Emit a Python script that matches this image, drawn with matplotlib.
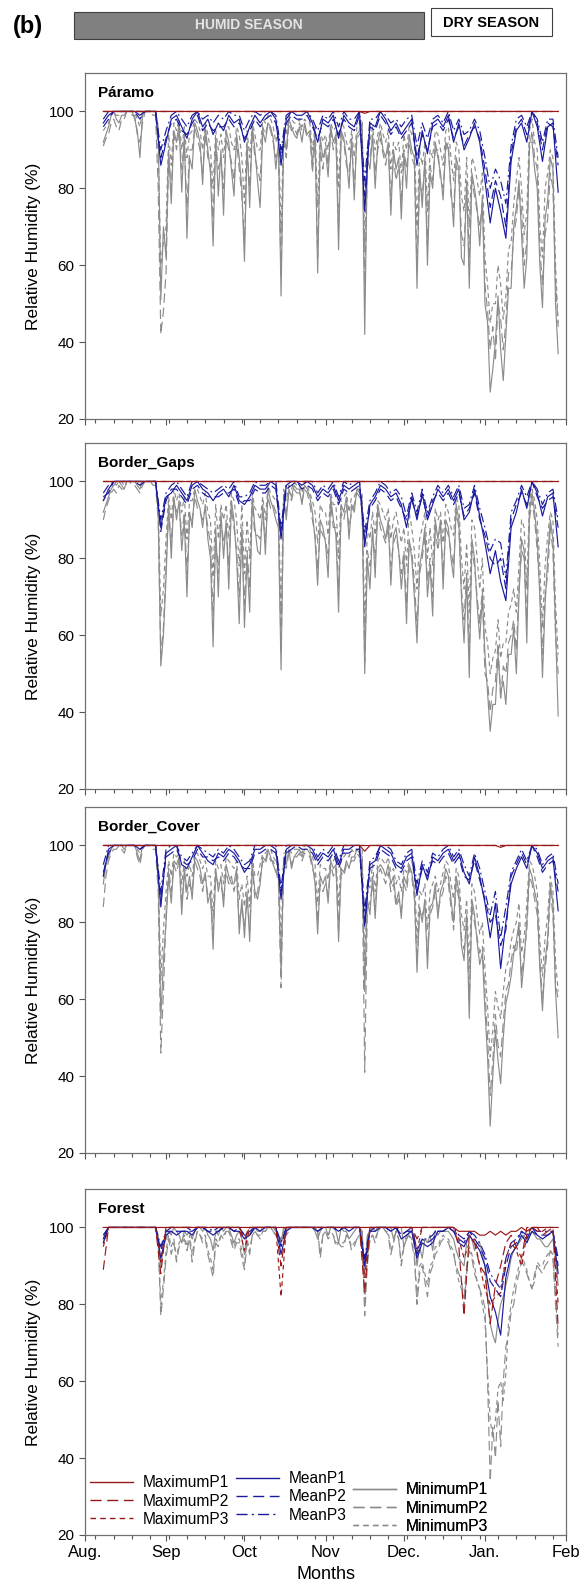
import numpy as np
import matplotlib
matplotlib.use('Agg')

from matplotlib import pyplot as plt
from matplotlib.lines import Line2D
from matplotlib.patches import Rectangle

plt.rcParams['font.family'] = ['Liberation Sans', 'DejaVu Sans']

# day 0 = 1 Aug. Minima read daily (7 Aug - 29 Jan), means/maxima every second day
DAYS_DAILY = np.arange(7, 182)
DAYS = np.arange(7, 182, 2)
MONTH_POS = [0, 31, 61, 92, 122, 153, 184]
MONTH_LABELS = ['Aug.', 'Sep', 'Oct', 'Nov', 'Dec.', 'Jan.', 'Feb']
PANELS = ['Páramo', 'Border_Gaps', 'Border_Cover', 'Forest']

FLAT_MAX = """
100 100 100 100 100 100 100 100 100 100 100 100 100 100 100 100 100 100 100 100 100 100
100 100 100 100 100 100 100 100 100 100 100 100 100 100 100 100 100 100 100 100 100 100
100 100 100 100 100 100 100 100 100 100 100 100 100 100 100 100 100 100 100 100 100 100
100 100 100 100 100 100 100 100 100 100 100 100 100 100 100 100 100 100 100 100 100 100
"""

# ---- Páramo ----
PARAMO_MAX_P1 = """
100 100 100 100 100 100 100 100 100 100 100 100 100 100 100 100 100 100 100 100 100 100
100 100 100 100 100 100 100 100 100 100 100 100 100 100 100 100 100 100 100 100 100 100
100 100 100 100 100 100 99.5 100 100 100 100 100 100 100 100 100 100 100 100 100 100 100
100 100 100 100 100 100 100 100 100 100 100 100 100 100 100 100 100 100 100 100 100 100
"""
PARAMO_MAX_P2 = FLAT_MAX
PARAMO_MAX_P3 = FLAT_MAX
PARAMO_MEAN_P1 = """
97 99 100 100 100 100 100 99 100 100 100 86 92 98 99 96 93 98 100 96 98 94
97 95 99 97 98 92 96 99 97 99 100 98 86 98 100 99 99 100 97 92 98 97
99 93 99 97 96 100 74 97 96 100 98 95 97 94 96 98 86 95 89 97 98 96
99 92 97 90 93 97 92 82 71 80 74 67 87 95 97 92 100 96 87 96 97 79
"""
PARAMO_MEAN_P2 = """
96 98 100 100 100 100 100 98 100 100 100 88 93 97 98 95 94 97 99 95 97 95
96 96 98 96 97 93 95 98 96 98 99 97 88 97 99 98 98 99 96 93 97 96
98 94 98 96 95 99 78 96 95 99 97 94 96 93 95 97 88 94 90 96 97 95
98 93 96 91 94 96 93 85 75 82 78 70 89 96 98 94 100 97 90 97 96 86
"""
PARAMO_MEAN_P3 = """
98 100 100 100 100 100 100 100 100 100 100 90 95 99 100 98 96 99 100 98 99 97
99 98 100 99 99 95 98 100 99 100 100 99 90 99 100 100 100 100 98 95 99 98
100 96 100 98 98 100 82 98 98 100 99 97 98 96 98 99 91 97 93 98 99 97
100 95 98 94 95 98 95 88 80 85 82 76 91 98 99 96 100 98 92 98 98 88
"""
PARAMO_MIN_P1 = """
92 94 96 99 100 98 97 99 99 100 100 100 98 95 88 99 100 100 100 100 100 96 51 70 62
90 76 95 92 97 79 94 67 88 85 97 95 92 81 96 90 84 65 93 78 90 73 95 92 85
78 94 88 80 61 92 75 96 90 82 75 95 92 97 96 93 85 92 52 94 90 98 96 94 93
96 92 97 94 95 86 95 58 93 88 90 83 96 92 94 64 95 93 88 80 93 77 94 95 97
42 88 85 94 80 92 95 90 88 92 73 90 85 88 72 89 80 94 90 88 54 85 75 88 60
84 80 92 88 84 77 92 90 80 70 88 85 62 60 82 54 84 80 75 65 78 50 45 27 33
40 52 38 30 42 54 54 70 75 82 68 54 62 92 92 85 80 60 49 72 77 88 85 50 37
"""
PARAMO_MIN_P2 = """
91 93 94 97 98 96 95 98 98 100 100 99 99 94 92 97 100 100 100 99 99 80 42 48 58
88 80 94 90 95 85 92 75 90 90 96 93 90 84 94 88 86 72 92 85 88 80 93 90 87
82 92 85 78 66 90 80 95 88 85 82 96 94 97 95 92 88 90 57 92 88 97 95 96 94
97 95 96 93 94 84 92 62 90 85 92 86 95 90 93 70 94 92 86 84 92 80 93 94 96
55 86 88 93 84 90 93 89 86 90 78 88 82 86 76 90 85 92 88 86 60 82 78 86 65
86 82 90 90 82 80 90 92 78 75 86 83 68 65 80 62 82 78 74 70 76 55 48 38 44
35 50 46 38 45 58 58 68 72 80 74 60 66 90 95 88 85 64 55 68 72 84 80 56 44
"""
PARAMO_MIN_P3 = """
95 96 97 99 100 99 99 100 100 100 100 100 100 98 96 100 100 100 100 100 100 90 60 66 70
94 86 97 95 98 90 96 88 94 95 98 97 95 90 97 94 90 80 95 90 94 88 96 96 92
90 96 94 88 76 95 88 97 94 90 90 98 97 99 98 96 92 95 68 96 94 99 98 97 97
98 96 98 97 97 90 96 75 95 92 94 90 97 95 96 80 97 96 92 90 95 88 96 97 98
65 90 92 96 90 94 97 94 92 95 85 92 90 92 84 94 90 96 94 92 70 90 86 92 74
90 88 95 94 90 86 95 96 88 82 92 90 78 74 88 70 88 86 82 78 84 62 55 45 50
50 60 55 46 52 64 66 76 82 88 80 68 74 95 98 92 90 70 62 80 84 90 88 60 45
"""

# ---- Border_Gaps ----
GAPS_MAX_P1 = FLAT_MAX
GAPS_MAX_P2 = FLAT_MAX
GAPS_MAX_P3 = FLAT_MAX
GAPS_MEAN_P1 = """
95 98 100 100 100 100 100 100 100 100 100 88 96 97 99 97 95 99 100 98 97 95
97 98 96 99 95 94 96 99 98 98 100 99 85 99 100 100 99 100 99 96 98 97
99 95 99 98 99 100 83 94 96 99 98 96 97 94 88 96 90 97 90 94 98 96
98 95 98 90 92 98 91 84 76 82 74 69 88 92 98 93 100 97 91 96 97 83
"""
GAPS_MEAN_P2 = """
96 97 100 100 100 100 100 99 100 100 100 87 95 98 98 96 94 98 99 97 96 96
96 97 97 98 94 95 95 98 97 97 99 98 86 98 99 100 98 99 98 95 97 96
98 94 98 97 98 99 85 93 95 98 97 95 96 93 90 95 91 96 91 95 97 95
97 94 97 91 93 97 90 86 80 78 80 72 90 94 97 94 100 96 93 95 96 88
"""
GAPS_MEAN_P3 = """
97 99 100 100 100 100 100 100 100 100 100 90 97 99 100 98 96 100 100 99 98 97
98 99 98 100 96 96 97 100 99 99 100 100 88 100 100 100 100 100 100 97 99 98
100 96 100 99 100 100 87 95 97 100 99 97 98 96 91 97 92 98 92 96 99 97
99 96 99 93 94 99 93 88 82 85 84 75 92 95 99 96 100 98 94 97 98 90
"""
GAPS_MIN_P1 = """
92 94 96 98 99 100 100 99 98 100 100 100 100 99 98 100 100 100 100 100 100 92 52 60 75
94 80 96 90 95 82 90 70 92 88 98 95 93 88 94 85 80 57 88 70 92 80 90 72 95
90 80 63 88 62 80 66 96 88 82 81 94 81 98 95 93 90 88 51 96 90 98 96 99 98
98 94 99 98 96 92 85 73 90 88 84 75 96 90 86 66 94 92 96 85 94 92 98 97 95
50 80 72 88 75 94 90 88 85 90 73 86 88 82 72 80 63 85 80 70 58 78 82 88 70
78 65 90 85 90 72 90 88 80 75 94 90 70 58 75 49 85 80 68 59 70 55 45 35 42
42 55 45 48 42 55 55 62 50 70 85 82 58 92 97 92 85 70 49 68 80 90 85 62 39
"""
GAPS_MIN_P2 = """
90 93 95 97 98 97 99 98 98 100 100 99 99 98 97 99 100 100 100 99 99 90 55 62 78
92 84 95 92 94 86 92 76 90 90 96 93 92 90 93 88 84 65 86 76 90 84 88 78 93
88 82 70 86 68 82 72 94 86 86 85 92 84 96 93 94 92 90 56 94 92 97 95 98 97
97 95 98 97 94 90 86 77 88 86 85 80 94 88 88 72 92 90 94 88 92 94 97 96 94
53 82 78 86 80 92 88 86 84 88 78 84 86 82 76 82 68 84 82 74 62 76 80 86 74
80 70 88 82 88 76 88 86 82 78 92 88 72 64 76 55 82 78 70 63 72 50 48 40 46
48 58 43 52 50 58 60 64 56 72 82 80 64 90 95 90 82 72 55 70 76 88 82 60 50
"""
GAPS_MIN_P3 = """
95 96 97 99 100 99 100 100 99 100 100 100 100 100 99 100 100 100 100 100 100 94 65 72 85
96 90 98 95 97 92 96 85 95 95 98 98 96 94 97 92 90 75 94 85 94 90 94 85 97
95 90 78 94 76 90 80 97 93 92 90 96 90 99 97 96 95 94 65 98 95 99 98 100 99
99 97 100 99 97 95 92 84 94 92 92 86 97 94 94 80 96 96 97 92 96 96 98 98 97
62 88 85 92 86 95 94 92 90 93 85 90 92 88 84 88 78 92 88 82 72 85 88 92 80
88 78 93 90 92 84 94 92 88 86 96 94 80 72 84 66 90 88 80 72 80 62 58 50 54
56 64 54 58 58 66 68 72 66 78 90 88 72 95 98 95 90 78 62 78 86 92 90 68 55
"""

# ---- Border_Cover ----
COVER_MAX_P1 = """
100 100 100 100 100 100 100 100 100 100 100 100 100 100 100 100 100 100 100 100 100 100
100 100 100 100 100 100 100 100 100 100 100 100 100 100 100 100 100 100 100 100 100 100
100 100 100 100 100 100 98.5 100 100 100 100 100 100 100 100 100 100 100 100 100 100 100
100 100 100 100 100 100 100 100 100 100 99.5 100 100 100 100 100 100 100 100 100 100 100
"""
COVER_MAX_P2 = FLAT_MAX
COVER_MAX_P3 = FLAT_MAX
COVER_MEAN_P1 = """
92 99 100 100 100 100 100 99 100 100 100 84 98 99 100 95 94 97 100 98 96 95
98 97 99 98 96 93 95 99 99 100 100 99 86 99 100 100 100 100 99 96 98 97
99 95 99 99 100 100 79 95 96 100 99 98 95 94 97 98 87 95 91 97 96 98
99 96 98 93 90 97 92 85 76 85 68 80 90 94 97 94 100 98 94 96 97 83
"""
COVER_MEAN_P2 = """
93 98 100 100 100 100 100 99 100 100 100 86 97 98 99 96 95 96 99 97 97 96
97 96 98 97 95 94 94 98 98 99 99 98 88 98 99 100 99 99 98 95 97 96
98 94 98 98 99 99 80 94 95 99 98 97 94 93 96 97 88 94 92 96 95 97
98 95 97 92 91 96 91 86 80 82 74 78 92 95 98 95 100 97 93 95 96 88
"""
COVER_MEAN_P3 = """
95 100 100 100 100 100 100 100 100 100 100 88 99 100 100 97 96 98 100 99 98 97
99 98 100 99 97 95 96 100 100 100 100 100 89 100 100 100 100 100 100 97 99 98
100 96 100 100 100 100 83 96 97 100 100 99 96 95 98 99 90 96 93 98 97 99
100 97 99 95 92 98 94 88 82 88 76 84 93 96 99 96 100 99 95 97 98 90
"""
COVER_MIN_P1 = """
90 95 97 99 100 100 100 100 99 100 100 100 100 98 96 100 100 100 100 100 100 94 55 70 80
92 85 96 95 97 82 94 88 92 86 97 96 94 90 93 85 88 73 94 88 92 84 95 92 90
90 94 77 86 76 88 75 95 88 86 90 97 96 99 97 95 93 92 67 96 95 99 94 97 98
99 97 99 99 98 95 90 77 92 90 92 85 96 94 95 75 94 93 96 94 97 97 99 98 97
62 86 82 92 81 94 95 94 92 95 90 92 85 88 81 92 90 95 93 88 67 84 80 86 68
84 85 90 81 88 90 94 92 86 80 92 88 74 70 82 55 86 82 75 69 72 57 45 27 40
52 44 38 50 59 62 66 72 75 80 63 70 80 94 92 88 85 68 57 70 76 90 85 62 50
"""
COVER_MIN_P2 = """
84 92 96 98 99 99 100 99 98 100 100 100 100 97 95 99 100 100 100 99 99 88 46 62 82
94 88 95 93 96 85 92 86 90 88 96 94 92 88 92 87 86 78 92 90 90 86 93 90 92
88 92 80 84 79 86 78 94 86 88 92 96 95 98 96 96 94 90 63 95 94 98 95 97 97
98 96 98 98 97 94 92 80 90 88 90 87 95 92 94 78 93 92 95 95 96 96 98 97 96
41 84 85 90 84 92 94 92 90 93 88 90 84 86 83 90 88 94 92 86 70 82 82 84 72
82 84 88 83 86 88 92 90 84 78 90 86 76 73 80 60 84 80 76 72 74 62 50 35 44
56 48 45 54 62 64 70 74 72 78 66 72 78 92 90 86 82 70 60 68 74 88 82 64 60
"""
COVER_MIN_P3 = """
92 96 98 99 100 100 100 100 100 100 100 100 100 99 98 100 100 100 100 100 100 93 65 78 88
96 92 98 97 98 90 96 92 95 92 98 98 96 94 96 92 92 82 96 94 95 90 97 96 95
94 96 86 90 84 92 84 97 92 92 95 98 98 99 99 97 96 95 74 98 98 99 98 99 99
99 98 100 100 99 97 95 85 95 94 94 91 97 96 97 84 97 97 98 97 99 98 99 99 99
70 90 89 95 88 96 97 96 95 97 93 94 90 92 88 94 93 96 96 92 76 88 87 90 78
88 90 92 88 90 93 96 95 90 86 94 92 82 78 86 68 90 88 82 77 80 68 58 45 52
62 58 55 62 68 70 75 78 80 85 72 76 85 96 95 92 88 75 66 76 82 92 88 70 62
"""

# ---- Forest ----
FOREST_MAX_P1 = """
100 100 100 100 100 100 100 100 100 100 100 100 100 100 100 100 100 100 100 100 100 100
100 100 100 100 100 100 100 100 100 100 100 100 100 100 100 100 100 100 100 100 100 100
100 100 100 100 100 100 100 100 100 100 100 100 100 100 100 100 100 100 100 100 100 100
100 100 99 99 99 99 98 98 99 98 99 98 99 99 100 99 100 100 100 100 100 100
"""
FOREST_MAX_P2 = """
89 100 100 100 100 100 100 100 100 100 100 88 100 100 100 100 100 100 100 100 100 100
100 100 100 100 100 97 100 100 100 100 100 100 90 100 100 100 100 100 100 100 100 100
100 100 100 100 100 100 83 100 100 100 100 100 100 100 100 100 97 100 100 100 100 100
100 100 95 77 98 96 90 88 75 85 90 96 98 95 92 100 100 100 98 99 100 74
"""
FOREST_MAX_P3 = """
95 100 100 100 100 100 100 100 100 100 100 91 100 100 100 100 100 100 100 100 100 100
100 100 100 100 100 94 100 100 100 100 100 100 82 100 100 100 100 100 100 100 100 100
100 100 100 100 100 100 87 100 100 100 100 100 100 100 100 100 94 100 100 100 100 100
100 100 97 92 96 97 90 84 80 82 83 92 96 94 90 98 100 99 99 100 100 80
"""
FOREST_MEAN_P1 = """
96 100 100 100 100 100 100 100 100 100 100 92 98 99 98 99 99 98 100 100 99 98
99 100 100 99 99 97 98 100 99 100 100 100 93 99 100 100 100 100 100 99 100 100
100 99 100 99 100 100 90 99 99 100 100 99 100 97 98 99 92 96 95 96 99 99
100 99 96 95 98 96 94 90 82 78 72 87 93 95 98 96 99 98 97 98 99 88
"""
FOREST_MEAN_P2 = """
97 100 100 100 100 100 100 100 100 100 100 94 99 99 99 99 99 99 100 100 99 99
99 100 100 99 100 98 98 100 100 100 100 100 95 100 100 100 100 100 100 99 100 100
100 99 100 100 100 100 91 99 100 100 100 99 100 98 99 99 93 97 96 97 99 99
100 99 97 96 99 97 95 92 86 84 82 90 95 96 99 97 100 98 98 98 99 90
"""
FOREST_MEAN_P3 = """
98 100 100 100 100 100 100 100 100 100 100 95 99 100 100 100 100 99 100 100 100 99
100 100 100 100 100 98 99 100 100 100 100 100 96 100 100 100 100 100 100 100 100 100
100 100 100 100 100 100 92 100 100 100 100 100 100 98 99 100 94 97 97 98 100 100
100 100 98 97 99 98 96 93 88 86 84 92 96 97 99 98 100 99 99 99 99 92
"""
FOREST_MIN_P1 = """
97 99 100 100 100 100 100 100 100 100 100 100 100 100 100 100 100 100 100 100 100 98 90 95 97
99 98 100 99 98 96 99 98 99 97 99 100 100 99 100 98 97 94 99 98 100 99 100 100 98
96 98 99 97 93 99 98 100 100 99 99 100 100 100 100 100 99 98 96 100 99 100 100 100 100
100 100 100 100 100 100 99 97 99 100 100 98 100 100 99 96 100 99 99 97 98 99 100 100 99
88 98 99 100 99 100 100 100 100 100 100 97 99 100 100 95 97 99 99 98 90 95 92 97 96
98 94 99 98 99 99 99 99 98 97 94 92 91 90 96 98 97 94 96 96 93 90 82 75 72
70 76 80 82 85 88 92 94 95 96 97 98 96 98 99 98 97 97 96 95 95 96 97 92 85
"""
FOREST_MIN_P2 = """
96 98 100 100 100 100 100 100 100 100 100 100 100 100 100 100 100 100 100 100 100 96 77 84 92
97 93 96 91 95 96 97 94 97 91 96 99 98 96 97 93 90 87 96 95 98 97 99 99 96
94 96 96 92 89 96 93 98 99 98 97 99 99 100 100 99 98 97 96 99 98 99 100 100 100
100 100 100 100 100 100 99 99 92 98 99 97 98 98 95 96 95 95 98 97 94 95 97 97 99
77 90 97 98 96 99 100 100 99 98 93 96 99 97 90 95 97 98 96 92 80 88 90 86 82
88 90 93 94 96 97 97 96 94 93 90 88 86 82 90 94 92 88 86 84 82 79 60 34 48
40 55 43 60 69 72 78 80 85 88 91 90 88 86 84 88 90 89 88 90 91 94 92 80 69
"""
FOREST_MIN_P3 = """
98 99 100 100 100 100 100 100 100 100 100 100 100 100 100 100 100 100 100 100 100 97 80 86 94
98 95 97 92 96 97 98 95 98 93 97 99 98 97 98 94 92 89 97 96 98 98 99 99 97
95 97 97 94 90 97 94 98 99 98 98 99 99 100 100 99 98 98 97 99 99 100 100 100 100
100 100 100 100 100 100 100 99 93 98 99 98 99 98 96 96 96 96 98 97 95 96 97 98 99
80 92 97 98 97 99 100 100 99 99 94 96 99 97 91 96 98 98 97 93 82 90 91 88 85
90 91 95 95 97 98 97 97 95 94 89 86 84 80 88 95 93 90 86 84 80 76 62 50 45
50 58 60 55 62 75 80 84 87 90 92 91 89 86 84 86 91 90 90 92 93 94 93 82 72
"""


def vals(s, days):
    a = np.array(s.split(), dtype=float)
    assert len(a) == len(days), len(a)
    return a


PANEL_DATA = [
    (PARAMO_MIN_P1, PARAMO_MIN_P2, PARAMO_MIN_P3, PARAMO_MEAN_P1, PARAMO_MEAN_P2, PARAMO_MEAN_P3,
     PARAMO_MAX_P1, PARAMO_MAX_P2, PARAMO_MAX_P3),
    (GAPS_MIN_P1, GAPS_MIN_P2, GAPS_MIN_P3, GAPS_MEAN_P1, GAPS_MEAN_P2, GAPS_MEAN_P3,
     GAPS_MAX_P1, GAPS_MAX_P2, GAPS_MAX_P3),
    (COVER_MIN_P1, COVER_MIN_P2, COVER_MIN_P3, COVER_MEAN_P1, COVER_MEAN_P2, COVER_MEAN_P3,
     COVER_MAX_P1, COVER_MAX_P2, COVER_MAX_P3),
    (FOREST_MIN_P1, FOREST_MIN_P2, FOREST_MIN_P3, FOREST_MEAN_P1, FOREST_MEAN_P2, FOREST_MEAN_P3,
     FOREST_MAX_P1, FOREST_MAX_P2, FOREST_MAX_P3),
]

RED = '#9a1818'
BLUE = '#1a1a9e'
GREY = '#8c8c8c'
SOLID = '-'
LONG = (0, (8, 4))
SHORT = (0, (4, 3))
DASHDOT = (0, (8, 3, 1.5, 3))
# order matches PANEL_DATA: min P1-P3, mean P1-P3, max P1-P3
STYLES = [(GREY, SOLID), (GREY, LONG), (GREY, SHORT),
          (BLUE, SOLID), (BLUE, LONG), (BLUE, DASHDOT),
          (RED, SOLID), (RED, LONG), (RED, SHORT)]
NAMES = ['MinimumP1', 'MinimumP2', 'MinimumP3', 'MeanP1', 'MeanP2', 'MeanP3',
         'MaximumP1', 'MaximumP2', 'MaximumP3']

W, H = 583, 1594
fig = plt.figure(figsize=(W / 100, H / 100), dpi=100)

# header boxes
fig.text(28 / W, 1 - 26 / H, '(b)', fontsize=17, fontweight='bold', ha='center', va='center')
fig.patches.append(Rectangle((74 / W, 1 - 39 / H), 350 / W, 27 / H, transform=fig.transFigure,
                             facecolor='#808080', edgecolor='#404040', lw=0.8))
fig.text(249 / W, 1 - 25 / H, 'HUMID SEASON', fontsize=10, fontweight='bold', color='#e4e4e4',
         ha='center', va='center')
fig.patches.append(Rectangle((431 / W, 1 - 36 / H), 121 / W, 28 / H, transform=fig.transFigure,
                             facecolor='white', edgecolor='#404040', lw=0.8))
fig.text(491 / W, 1 - 23 / H, 'DRY SEASON', fontsize=10.5, fontweight='bold', color='black',
         ha='center', va='center')

AX_LEFT, AX_RIGHT = 85, 566
AX_BOTTOMS = [419, 789, 1153, 1535]
AX_H = 346

for i, (name, series) in enumerate(zip(PANELS, PANEL_DATA)):
    ax = fig.add_axes([AX_LEFT / W, 1 - AX_BOTTOMS[i] / H, (AX_RIGHT - AX_LEFT) / W, AX_H / H])
    for k, (s, (col, ls)) in enumerate(zip(series, STYLES)):
        days = DAYS_DAILY if k < 3 else DAYS
        ax.plot(days, vals(s, days), color=col, ls=ls, lw=0.85, zorder=2 + k // 3)
    ax.set_xlim(0, 184)
    ax.set_ylim(20, 110)
    ax.set_yticks([20, 40, 60, 80, 100])
    ax.set_xticks(MONTH_POS)
    ax.set_xticks(np.arange(4, 184, 7), minor=True)
    ax.tick_params(axis='both', which='major', direction='out', length=4, width=0.8,
                   color='#555555', labelsize=11)
    ax.tick_params(axis='x', which='minor', direction='out', length=3, width=0.8, color='#555555')
    if i == 3:
        ax.set_xticklabels(MONTH_LABELS, fontsize=12)
        ax.set_xlabel('Months', fontsize=13, labelpad=4)
    else:
        ax.set_xticklabels([])
    ax.set_ylabel('Relative Humidity (%)', fontsize=12.5, labelpad=6)
    for sp in ax.spines.values():
        sp.set_color('#707070')
        sp.set_linewidth(0.9)
    ax.text(0.027, 0.943, name, transform=ax.transAxes, fontsize=11, fontweight='bold',
            ha='left', va='center')

    if i == 3:
        groups = [([6, 7, 8], (0.010, 0.172)), ([3, 4, 5], (0.314, 0.184)), ([0, 1, 2], (0.557, 0.152))]
        for idx, anchor in groups:
            handles = [Line2D([], [], color=STYLES[j][0], ls=STYLES[j][1], lw=1.0) for j in idx]
            leg = ax.legend(handles, [NAMES[j] for j in idx], loc='upper left', bbox_to_anchor=anchor,
                            frameon=False, fontsize=11.2, handlelength=2.75, handletextpad=0.65,
                            labelspacing=0.2, borderpad=0, borderaxespad=0)
            ax.add_artist(leg)

fig.savefig('out.png', dpi=100)
